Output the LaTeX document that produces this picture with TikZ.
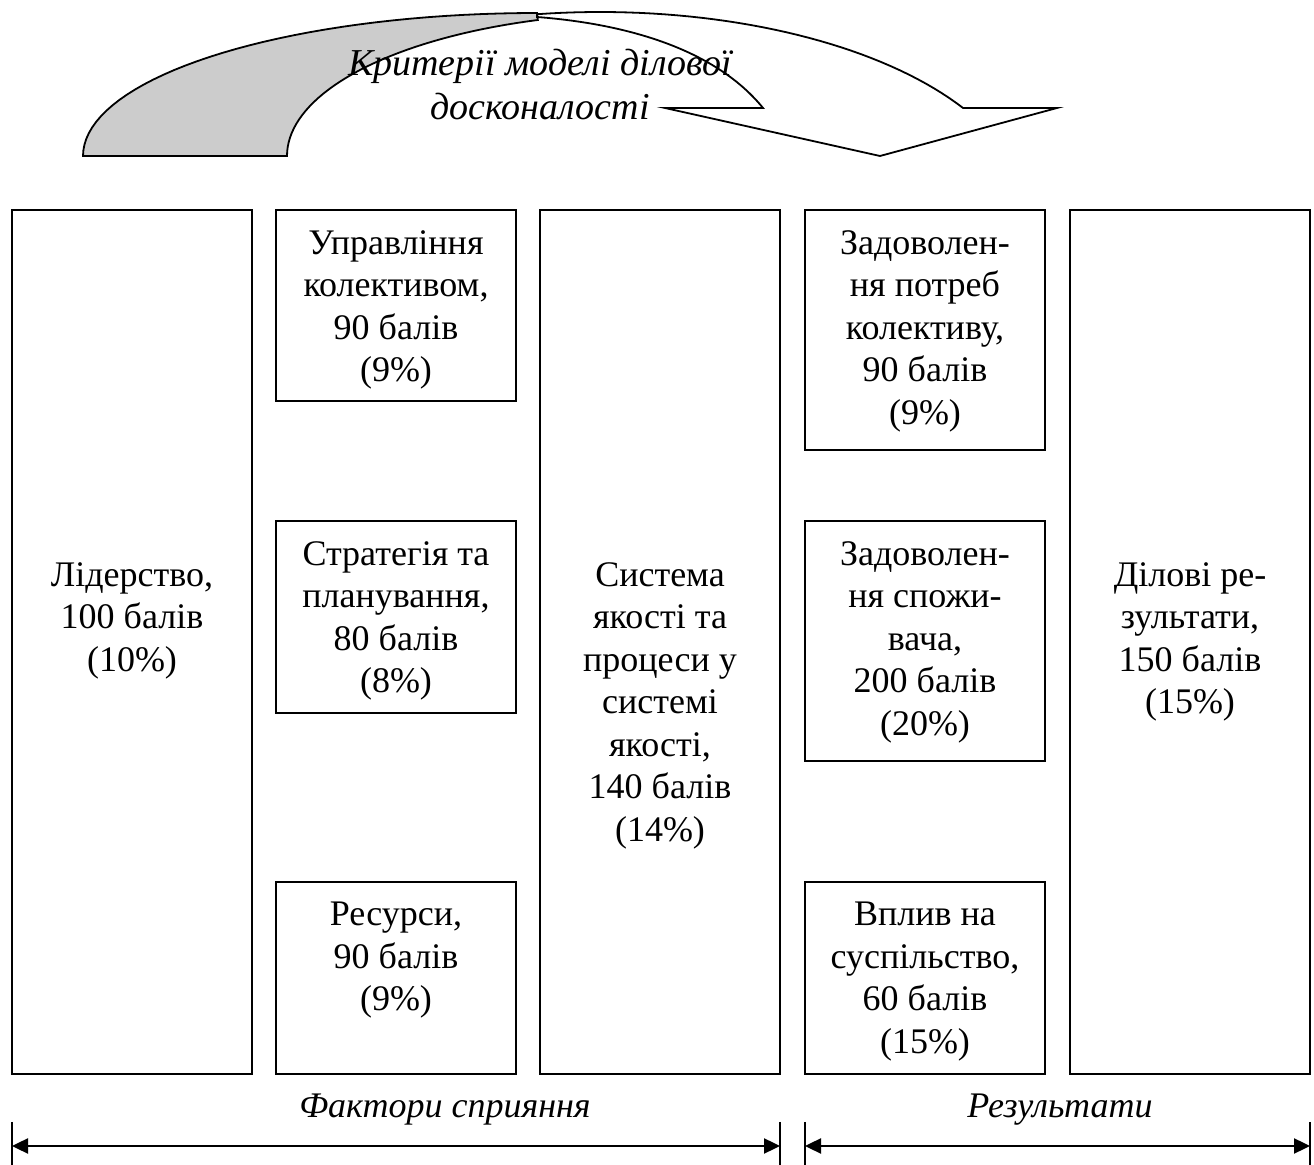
\documentclass[tikz,border=0pt]{standalone}
\usepackage{fontspec}
\setmainfont{Liberation Serif}
\usetikzlibrary{arrows.meta}

\tikzset{
	crit/.style={draw, line width=0.9pt, minimum width=120pt, inner sep=0pt},
	crittext/.style={font=\fontsize{18}{21.25}\selectfont, align=center, inner sep=0pt, anchor=north, execute at begin node=\strut},
	headtext/.style={crittext, font=\fontsize{19}{22}\selectfont\itshape},
	grouplabel/.style={font=\fontsize{18}{21.25}\selectfont\itshape, inner sep=0pt, anchor=base},
	spanarrow/.style={line width=1.2pt, {Triangle[length=8pt,width=7.5pt]}-{Triangle[length=8pt,width=7.5pt]}},
	spanend/.style={line width=0.9pt}
}

\begin{document}
\begin{tikzpicture}[x=0.5pt, y=-0.5pt]
	\useasboundingbox (0,0) rectangle (1314,1165);

	% curved arrow over the criteria
	\filldraw[fill=gray!40!white, draw=black, line width=0.9pt]
		plot[domain=180:90, samples=40] ({537+454*cos(\x)}, {156-143*sin(\x)})
		-- plot[domain=108:180, samples=40] ({650+363*cos(\x)}, {156-143*sin(\x)}) -- cycle;
	\filldraw[fill=white, draw=black, line width=0.9pt]
		plot[domain=98.5:31.3, samples=40] ({600+425*cos(\x)}, {212-200*sin(\x)})
		-- (1057,108) -- (880,156) -- (665,108) -- (763,108)
		.. controls (720,55) and (640,25) .. (537,17) -- cycle;
	\node[headtext] (model) at (540,49) {Критерії моделі ділової\\досконалості};

	\node[crit, minimum height=432pt] (lead) at (132,642) {};
	\node[crittext] (leadtxt) at (132,562) {Лідерство,\\100 балів\\(10\%)};

	\node[crit, minimum height=95.5pt] (staff) at (396,305.5) {};
	\node[crittext] (stafftxt) at (396,230) {Управління\\колективом,\\90 балів\\(9\%)};
	\node[crit, minimum height=96pt] (strat) at (396,617) {};
	\node[crittext] (strattxt) at (396,541) {Стратегія та\\планування,\\80 балів\\(8\%)};
	\node[crit, minimum height=96pt] (res) at (396,978) {};
	\node[crittext] (restxt) at (396,902) {Ресурси,\\90 балів\\(9\%)};

	\node[crit, minimum height=432pt] (qsys) at (660,642) {};
	\node[crittext] (qsystxt) at (660,562) {Система\\якості та\\процеси у\\системі\\якості,\\140 балів\\(14\%)};

	\node[crit, minimum height=120pt] (staffsat) at (925,330) {};
	\node[crittext] (staffsattxt) at (925,230) {Задоволен-\\ня потреб\\колективу,\\90 балів\\(9\%)};
	\node[crit, minimum height=120pt] (custsat) at (925,641) {};
	\node[crittext] (custsattxt) at (925,541) {Задоволен-\\ня спожи-\\вача,\\200 балів\\(20\%)};
	\node[crit, minimum height=96pt] (society) at (925,978) {};
	\node[crittext] (societytxt) at (925,902) {Вплив на\\суспільство,\\60 балів\\(15\%)};

	\node[crit, minimum height=432pt] (bizres) at (1190,642) {};
	\node[crittext] (bizrestxt) at (1190,562) {Ділові ре-\\зультати,\\150 балів\\(15\%)};

	% groups below
	\node[grouplabel] (enablers) at (445,1118) {Фактори сприяння};
	\node[grouplabel] (results) at (1060,1118) {Результати};
	\coordinate (e1) at (12,1146); \coordinate (e2) at (780,1146);
	\coordinate (r1) at (805,1146); \coordinate (r2) at (1310,1146);
	\draw[spanend] (12,1122) -- (12,1165); \draw[spanend] (780,1122) -- (780,1165);
	\draw[spanend] (805,1122) -- (805,1165); \draw[spanend] (1310,1122) -- (1310,1165);
	\draw[spanarrow] (e1) -- (e2);
	\draw[spanarrow] (r1) -- (r2);
\end{tikzpicture}
\end{document}
